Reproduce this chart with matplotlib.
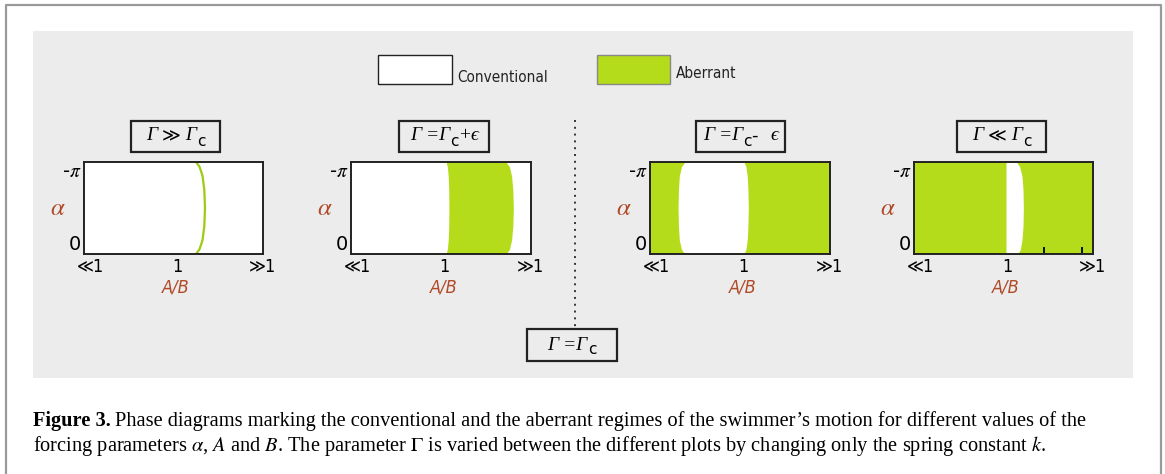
import numpy as np
import matplotlib
matplotlib.use('Agg')
import matplotlib.pyplot as plt
from matplotlib.patches import Rectangle
from matplotlib.lines import Line2D

plt.rcParams['mathtext.fontset'] = 'stix'
plt.rcParams['font.family'] = ['DejaVu Sans']

W, H = 1165, 474
GREEN = '#b5dc1a'
RUST = '#b04a28'
PANEL_BG = '#ececec'

# alpha samples as fractions of -pi (0 at the bottom, 1 at the top)
alpha_frac = [0, 0.05, 0.15, 0.3, 0.5, 0.7, 0.85, 0.95, 1.0]

# A/B positions of the regime boundaries (axis runs <<1 .. 1 .. >>1 as 0 .. 0.52 .. 1)
p1_line = [0.626, 0.645, 0.662, 0.672, 0.676, 0.672, 0.662, 0.645, 0.626]
p2_left = [0.528, 0.535, 0.540, 0.543, 0.544, 0.543, 0.540, 0.535, 0.528]
p2_right = [0.861, 0.880, 0.892, 0.899, 0.902, 0.899, 0.892, 0.880, 0.861]
p3_left = [0.194, 0.175, 0.163, 0.158, 0.156, 0.158, 0.163, 0.175, 0.194]
p3_right = [0.522, 0.533, 0.540, 0.544, 0.546, 0.544, 0.540, 0.533, 0.522]
p4_left = [0.514, 0.514, 0.514, 0.514, 0.514, 0.514, 0.514, 0.514, 0.514]
p4_right = [0.580, 0.594, 0.603, 0.609, 0.611, 0.609, 0.603, 0.590, 0.572]

xtick_pos = [0.035, 0.52, 0.995]
xtick_labels = ['≪1', '1', '≫1']
ytick_pos = [0, -np.pi]
ytick_labels = ['0', r'-$\pi$']

SERIF = ['Liberation Serif', 'DejaVu Serif']
G = dict(family=SERIF, style='italic', fontsize=14)
SUB = dict(family=['DejaVu Sans'], fontsize=11, dy=-5)
UP = dict(family=SERIF, fontsize=14)
REL = dict(family=['DejaVu Sans'], fontsize=13)
SANS = dict(family=['DejaVu Sans'], fontsize=13)

titles = [[('Γ ', G), ('≫', REL), (' Γ', G), ('c', SUB)],
          [('Γ =Γ', G), ('c', SUB), ('+', UP), ('\u03f5', G)],
          [('Γ =Γ', G), ('c', SUB), ('-  ', SANS), ('\u03f5', G)],
          [('Γ ', G), ('≪', REL), (' Γ', G), ('c', SUB)]]
crit_title = [('Γ =Γ', G), ('c', SUB)]


def fx(x):
    return x / W


def fy(y):
    return 1 - y / H


def box(x0, y0, x1, y1, **kw):
    fig.add_artist(Rectangle((fx(x0), fy(y1)), fx(x1) - fx(x0), fy(y0) - fy(y1),
                             transform=fig.transFigure, **kw))


def rich(xc, yc, parts):
    # lay out mixed-style text pieces centred on (xc, yc) in pixels
    renderer = fig.canvas.get_renderer()
    texts = []
    for s, p in parts:
        kw = {k: v for k, v in p.items() if k != 'dy'}
        t = fig.text(0, 0, s, va='center', ha='left', **kw)
        texts.append((t, p.get('dy', 0)))
    widths = [t.get_window_extent(renderer).width for t, _ in texts]
    x = xc - sum(widths) / 2
    for (t, dy), w in zip(texts, widths):
        t.set_position((fx(x), fy(yc - dy)))
        x += w


fig = plt.figure(figsize=(W / 100, H / 100), dpi=100, facecolor='white')

# outer frame and grey panel
fig.add_artist(Line2D([fx(6), fx(6), fx(1161), fx(1161)], [0, fy(5), fy(5), 0],
                      transform=fig.transFigure, color='#9a9a9a', lw=1.6))
box(33, 31, 1133, 378, facecolor=PANEL_BG, edgecolor='none', zorder=0)

# legend
box(378, 55, 452, 84, facecolor='white', edgecolor='#222222', lw=1.0)
box(597, 55, 670, 84, facecolor=GREEN, edgecolor='#888888', lw=1.0)
fig.text(fx(457), fy(77), 'Conventional', fontsize=11, va='center', ha='left',
         fontstretch='condensed', color='#222222')
fig.text(fx(676), fy(74), 'Aberrant', fontsize=11, va='center', ha='left',
         fontstretch='condensed', color='#222222')

# dotted separator and the critical value label
fig.add_artist(Line2D([fx(575), fx(575)], [fy(120), fy(329)], transform=fig.transFigure,
                      color='#333333', lw=1.4, ls=(0, (1, 2.5))))
box(527, 329, 617, 361, facecolor=PANEL_BG, edgecolor='#222222', lw=1.6)
rich(572, 345, crit_title)

alpha = -np.pi * np.array(alpha_frac)
panels = [(84, 263, 'white'), (351, 531, 'white'), (650, 830, GREEN), (914, 1093, GREEN)]
minor_ticks = [[0.52], [], [], [0.52, 0.726, 0.94]]
title_boxes = [(131, 220), (399, 489), (696, 785), (957, 1046)]

for i, (x0, x1, face) in enumerate(panels):
    ax = fig.add_axes([fx(x0), fy(254), fx(x1) - fx(x0), fy(162) - fy(254)])
    ax.set_facecolor(face)
    ax.set_xlim(0, 1)
    ax.set_ylim(0, -np.pi)
    if i == 0:
        ax.plot(p1_line, alpha, color='#9ccc10', lw=1.6)
    elif i == 1:
        ax.fill_betweenx(alpha, p2_left, p2_right, color=GREEN, lw=0)
    elif i == 2:
        ax.fill_betweenx(alpha, p3_left, p3_right, color='white', lw=0)
    else:
        ax.fill_betweenx(alpha, p4_left, p4_right, color='white', lw=0)

    ax.set_xticks(xtick_pos)
    ax.set_xticklabels(xtick_labels, fontsize=13, fontstretch='condensed')
    ax.set_xticks(minor_ticks[i], minor=True)
    ax.tick_params(axis='x', which='major', length=0, pad=3)
    ax.tick_params(axis='x', which='minor', direction='in', length=5, width=1.3)
    ax.set_yticks(ytick_pos)
    ax.set_yticklabels(ytick_labels, fontsize=14)
    ax.tick_params(axis='y', length=0, pad=2)
    labs = ax.get_yticklabels()
    labs[0].set_va('bottom')
    labs[1].set_va('top')
    for s in ax.spines.values():
        s.set_linewidth(1.4)
        s.set_color('#222222')

    fig.text(fx(x0 - 26), fy(208), r'$\alpha$', fontsize=18, color=RUST,
             ha='center', va='center')
    fig.text(fx(x0 + 0.515 * (x1 - x0)), fy(288), 'A/B', fontsize=13, color=RUST,
             style='italic', ha='center', va='center', fontstretch='condensed')

    tb = title_boxes[i]
    box(tb[0], 121, tb[1], 152, facecolor=PANEL_BG, edgecolor='#222222', lw=1.6)
    rich((tb[0] + tb[1]) / 2, 136, titles[i])

# caption
renderer = fig.canvas.get_renderer()
t1 = fig.text(fx(33), fy(421), 'Figure 3.', fontsize=14.7, fontweight='bold',
              family='Liberation Serif', va='center', ha='left')
bb = t1.get_window_extent(renderer)
fig.text(bb.x1 / W + fx(4), fy(421),
         'Phase diagrams marking the conventional and the aberrant regimes of the '
         'swimmer\u2019s motion for different values of the',
         fontsize=14.7, family='Liberation Serif', va='center', ha='left')
fig.text(fx(33), fy(446),
         r'forcing parameters $\alpha$, $A$ and $B$. The parameter $\Gamma$ is varied '
         r'between the different plots by changing only the spring constant $k$.',
         fontsize=14.7, family='Liberation Serif', va='center', ha='left')

fig.savefig('out.png', dpi=100)
